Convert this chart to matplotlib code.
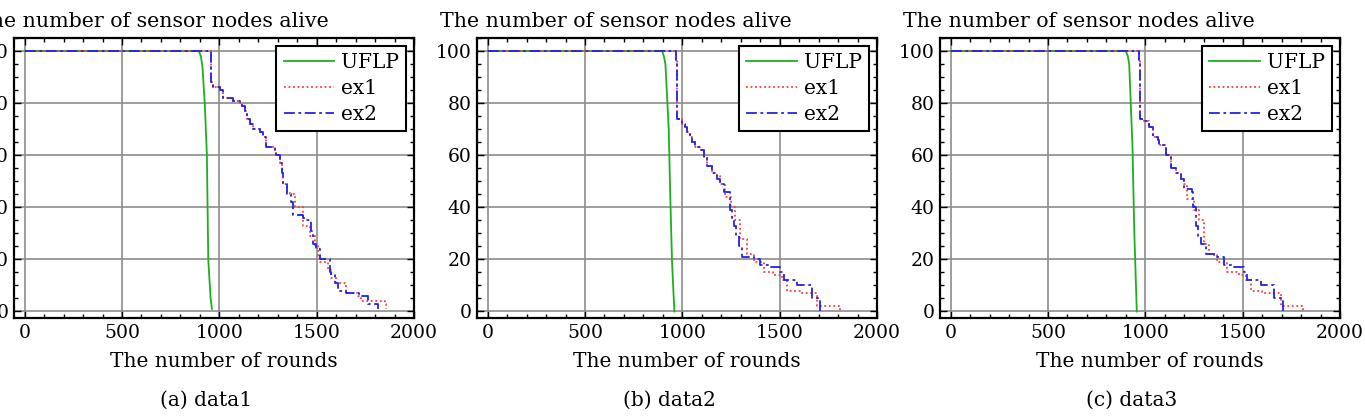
import numpy as np
import matplotlib.pyplot as plt
from matplotlib.ticker import MultipleLocator

plt.rcParams['font.family'] = ['DejaVu Serif']

# data1
uflp1_x = [0, 895, 905, 913, 925, 936, 943, 955, 962]
uflp1_y = [100, 100, 98, 94, 80, 60, 20, 5, 1]
ex1_1_x = [0, 958, 965, 1003, 1020, 1071, 1105, 1115, 1131, 1140, 1156, 1172, 1207, 1222, 1242, 1285, 1293, 1310, 1320, 1327,
           1345, 1362, 1387, 1430, 1464, 1490, 1507, 1515, 1560, 1575, 1601, 1652, 1713, 1729, 1849, 1854]
ex1_1_y = [100, 88, 86, 85, 82, 81, 80, 79, 77, 74, 72, 70, 69, 67, 63, 62, 60, 57, 53, 49,
           46, 45, 40, 33, 29, 25, 21, 19, 16, 13, 11, 7, 6, 4, 3, 1]
ex2_1_x = [0, 958, 965, 1003, 1020, 1071, 1105, 1115, 1131, 1140, 1156, 1172, 1207, 1222, 1242, 1285, 1293, 1310, 1320, 1327,
           1345, 1370, 1378, 1430, 1447, 1473, 1481, 1498, 1515, 1567, 1575, 1592, 1609, 1652, 1720, 1763, 1814]
ex2_1_y = [100, 88, 86, 85, 82, 81, 80, 79, 77, 74, 72, 70, 69, 67, 63, 62, 60, 57, 53, 49,
           45, 42, 37, 36, 35, 31, 26, 24, 20, 15, 14, 11, 8, 7, 6, 3, 1]

# data2
uflp2_x = [0, 896, 905, 913, 930, 938, 947, 959]
uflp2_y = [100, 100, 98, 95, 70, 44, 19, 0]
ex1_2_x = [0, 968, 971, 975, 998, 1015, 1024, 1041, 1050, 1067, 1092, 1109, 1126, 1152, 1178, 1195, 1221, 1250,
           1272, 1297, 1331, 1366, 1417, 1468, 1511, 1537, 1605, 1691, 1810]
ex1_2_y = [100, 96, 85, 74, 72, 71, 69, 67, 65, 63, 62, 59, 56, 53, 52, 49, 44, 40,
           35, 28, 22, 19, 15, 14, 12, 8, 7, 2, 0]
ex2_2_x = [0, 968, 971, 975, 998, 1015, 1024, 1041, 1050, 1067, 1092, 1109, 1126, 1152, 1178, 1195, 1212, 1246,
           1255, 1263, 1275, 1289, 1306, 1366, 1400, 1443, 1503, 1520, 1588, 1665, 1699, 1708]
ex2_2_y = [100, 96, 85, 74, 72, 71, 69, 67, 65, 63, 62, 59, 56, 53, 51, 49, 46, 39,
           36, 33, 29, 25, 21, 20, 18, 17, 15, 12, 10, 5, 4, 0]

# data3
uflp3_x = [0, 900, 910, 917, 934, 943, 956]
uflp3_y = [100, 100, 98, 95, 63, 31, 0]
ex1_3_x = [0, 968, 971, 975, 994, 1019, 1037, 1063, 1071, 1105, 1131, 1156, 1182, 1199, 1216, 1250, 1276,
           1302, 1327, 1370, 1422, 1481, 1515, 1541, 1601, 1695, 1812]
ex1_3_y = [100, 96, 85, 74, 73, 71, 67, 66, 64, 60, 55, 53, 51, 49, 43, 39, 35,
           26, 22, 19, 15, 14, 12, 8, 7, 2, 0]
ex2_3_x = [0, 968, 971, 975, 994, 1019, 1037, 1063, 1071, 1105, 1131, 1156, 1182, 1199, 1242, 1247, 1259, 1272,
           1285, 1310, 1353, 1404, 1455, 1507, 1524, 1592, 1661, 1704, 1709]
ex2_3_y = [100, 96, 85, 74, 73, 71, 67, 66, 64, 60, 55, 53, 51, 47, 46, 40, 33, 29,
           26, 22, 21, 18, 17, 15, 12, 10, 5, 4, 0]

captions = ['(a) data1', '(b) data2', '(c) data3']
panels = [
    (uflp1_x, uflp1_y, ex1_1_x, ex1_1_y, ex2_1_x, ex2_1_y),
    (uflp2_x, uflp2_y, ex1_2_x, ex1_2_y, ex2_2_x, ex2_2_y),
    (uflp3_x, uflp3_y, ex1_3_x, ex1_3_y, ex2_3_x, ex2_3_y),
]

W, H = 1365, 420
fig = plt.figure(figsize=(W / 100, H / 100), dpi=100)

for i, (ux, uy, e1x, e1y, e2x, e2y) in enumerate(panels):
    left = 14 + 463 * i
    ax = fig.add_axes([left / W, (H - 318) / H, 400 / W, 280 / H])
    ax.plot(ux, uy, color='#1db01d', lw=1.3, label='UFLP')
    ax.plot(e1x, e1y, color='#ff3b3b', lw=1.3, ls=(0, (1, 1.5)), drawstyle='steps-post', label='ex1')
    ax.plot(e2x, e2y, color='#2323e6', lw=1.3, ls=(0, (6, 2, 1.5, 2)), drawstyle='steps-post', label='ex2')
    ax.set_xlim(-55, 2000)
    ax.set_ylim(-2.5, 105)
    ax.xaxis.set_major_locator(MultipleLocator(500))
    ax.xaxis.set_minor_locator(MultipleLocator(100))
    ax.yaxis.set_major_locator(MultipleLocator(20))
    ax.yaxis.set_minor_locator(MultipleLocator(5))
    ax.grid(True, which='major', color='#8c8c8c', lw=1.2)
    ax.tick_params(which='both', direction='in', top=True, right=True, labelsize=13.5, pad=4)
    ax.tick_params(which='major', length=5, width=1)
    ax.tick_params(which='minor', length=3, width=1)
    for s in ax.spines.values():
        s.set_linewidth(1.6)
    ax.set_xlabel('The number of rounds', fontsize=14.5)
    ax.xaxis.set_label_coords(0.525, -0.12)
    leg = ax.legend(loc='upper right', fontsize=14.5, fancybox=False, framealpha=1, edgecolor='black',
                    handlelength=2.5, handletextpad=0.35, labelspacing=0.35, borderaxespad=0.4,
                    borderpad=0.35)
    leg.get_frame().set_linewidth(1.5)
    fig.text((left - 37) / W, (H - 27) / H, 'The number of sensor nodes alive', fontsize=14.8, va='baseline')
    fig.text((left + 192) / W, (H - 400) / H, captions[i], fontsize=14.5, ha='center', va='center')

fig.savefig('out.png', dpi=100)
